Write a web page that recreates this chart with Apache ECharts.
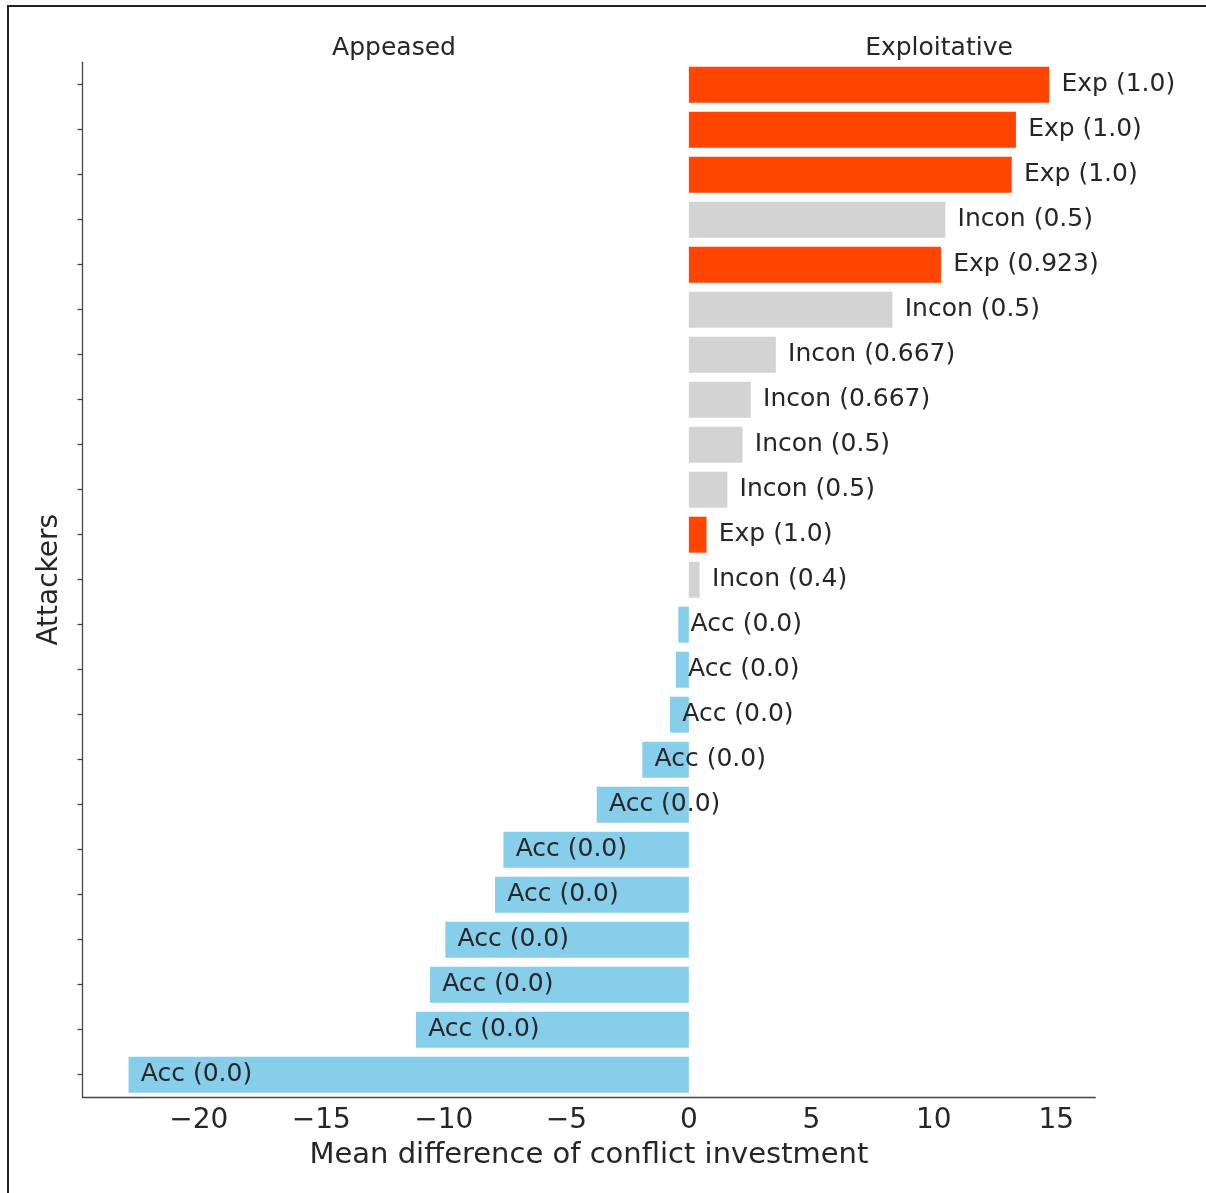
<!DOCTYPE html>
<html><head><meta charset="utf-8">
<script src="https://cdn.jsdelivr.net/npm/echarts@6/dist/echarts.min.js"></script>
<style>html,body{margin:0;padding:0;background:#fff}#c{width:1206px;height:1193px}</style>
</head><body><div id="c"></div>
<script>
// ---- data ----
const attackers = ['a1','a2','a3','a4','a5','a6','a7','a8','a9','a10','a11','a12','a13','a14','a15','a16','a17','a18','a19','a20','a21','a22','a23'];
const meanDiff = [14.71, 13.35, 13.18, 10.47, 10.29, 8.31, 3.55, 2.53, 2.19, 1.57, 0.72, 0.44,
                  -0.43, -0.53, -0.77, -1.90, -3.76, -7.57, -7.91, -9.94, -10.57, -11.14, -22.87];
const types = ['Exp','Exp','Exp','Incon','Exp','Incon','Incon','Incon','Incon','Incon','Exp','Incon',
               'Acc','Acc','Acc','Acc','Acc','Acc','Acc','Acc','Acc','Acc','Acc'];
const scores = ['1.0','1.0','1.0','0.5','0.923','0.5','0.667','0.667','0.5','0.5','1.0','0.4',
                '0.0','0.0','0.0','0.0','0.0','0.0','0.0','0.0','0.0','0.0','0.0'];
const xTicks = [-20, -15, -10, -5, 0, 5, 10, 15];
const sideTitles = ['Appeased', 'Exploitative'];
const typeColors = { Exp: '#FF4500', Incon: '#D3D3D3', Acc: '#87CEEB' };

const FONT = '"DejaVu Sans", sans-serif';
const TXT = '#262626';

const chart = echarts.init(document.getElementById('c'), null, { renderer: 'canvas' });
chart.setOption({
  animation: false,
  backgroundColor: '#fff',
  grid: { left: 82.5, right: 110.7, top: 62.2, bottom: 95.8, containLabel: false, outerBoundsMode: 'none' },
  xAxis: {
    type: 'value', min: -24.75, max: 16.59,
    axisLine: { show: true, onZero: false, lineStyle: { color: '#444', width: 1.3 } },
    axisTick: { show: false },
    splitLine: { show: false },
    axisLabel: {
      customValues: xTicks, fontSize: 28, color: TXT, fontFamily: FONT, margin: 10,
      formatter: v => String(v).replace('-', '\u2212')
    },
    name: 'Mean difference of conflict investment',
    nameLocation: 'middle', nameGap: 44,
    nameTextStyle: { fontSize: 29, color: TXT, fontFamily: FONT }
  },
  yAxis: {
    type: 'category', data: attackers, inverse: true,
    axisLine: { show: true, onZero: false, lineStyle: { color: '#444', width: 1.3 } },
    axisTick: { show: true, alignWithLabel: true, length: 5, lineStyle: { color: '#444', width: 1.3 } },
    axisLabel: { show: false },
    splitLine: { show: false },
    name: 'Attackers', nameLocation: 'middle', nameGap: 19, nameRotate: 90,
    nameTextStyle: { fontSize: 28, color: TXT, fontFamily: FONT }
  },
  series: [
    {
      type: 'bar', barWidth: '80%',
      data: meanDiff.map((v, i) => ({ value: v, itemStyle: { color: typeColors[types[i]] } }))
    },
    {
      type: 'custom',
      data: meanDiff.map((v, i) => [v, i]),
      encode: { x: 0, y: 1 },
      renderItem: (params, api) => {
        const i = params.dataIndex;
        const p = api.coord([api.value(0) + 0.5, api.value(1)]);
        return {
          type: 'text', x: p[0], y: p[1],
          style: {
            text: types[i] + ' (' + scores[i] + ')',
            fill: TXT, fontSize: 25, fontFamily: FONT,
            align: 'left', verticalAlign: 'middle'
          }
        };
      },
      z: 5
    }
  ],
  graphic: [
    { type: 'text', x: 394, y: 48, style: { text: sideTitles[0], fill: TXT, fontSize: 25, fontFamily: FONT, align: 'center', verticalAlign: 'middle' } },
    { type: 'text', x: 939, y: 48, style: { text: sideTitles[1], fill: TXT, fontSize: 25, fontFamily: FONT, align: 'center', verticalAlign: 'middle' } },
    { type: 'line', shape: { x1: 7, y1: 6, x2: 1206, y2: 6 }, style: { stroke: '#222', lineWidth: 2 } },
    { type: 'line', shape: { x1: 8, y1: 5, x2: 8, y2: 1193 }, style: { stroke: '#222', lineWidth: 2 } }
  ]
});
</script>
</body></html>
